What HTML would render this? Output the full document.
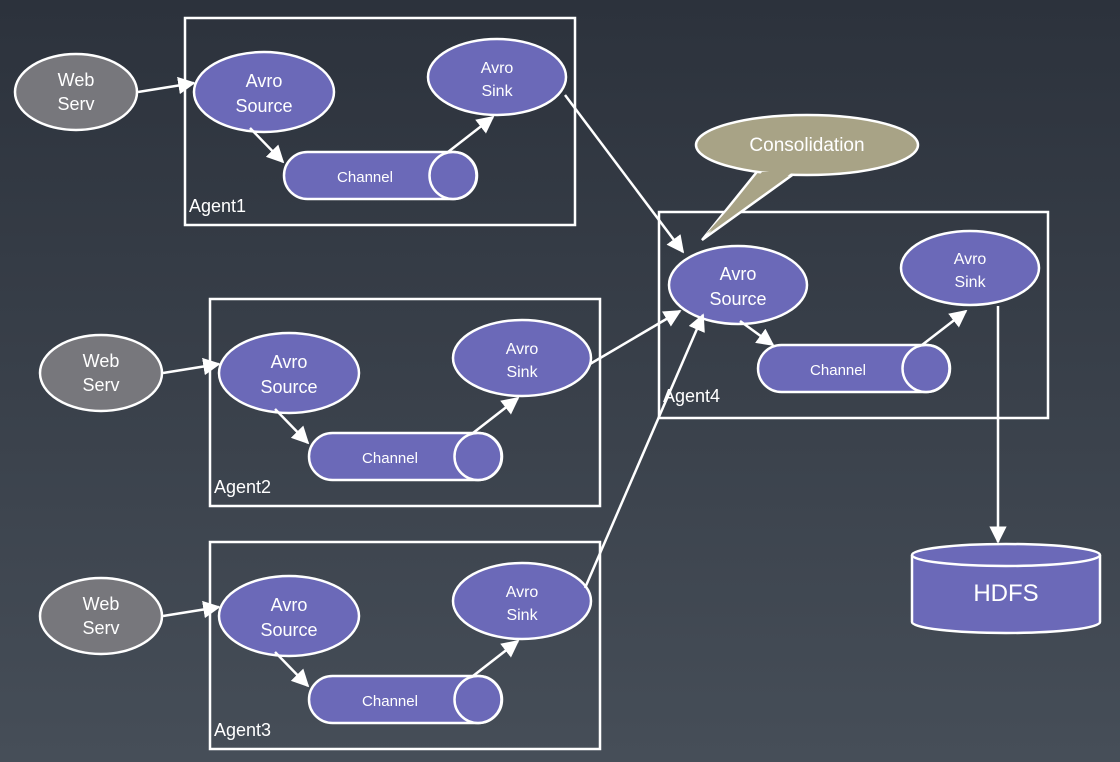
<!DOCTYPE html>
<html><head><meta charset="utf-8"><style>
html,body{margin:0;padding:0}
body{width:1120px;height:762px;overflow:hidden;background:linear-gradient(#2c323c,#464e58)}
svg{display:block}
text{font-family:"Liberation Sans",sans-serif;fill:#fff}
</style></head><body>
<svg width="1120" height="762" viewBox="0 0 1120 762" xmlns="http://www.w3.org/2000/svg">
<defs>
<marker id="a" viewBox="0 0 10 10" refX="9" refY="5" markerWidth="7" markerHeight="7" orient="auto" markerUnits="strokeWidth"><path d="M0,0L10,5L0,10z" fill="#fff"/></marker>
<g id="ag">
<rect x="185" y="18" width="390" height="207" fill="none" stroke="#fff" stroke-width="2.5"/>
<ellipse cx="76" cy="92" rx="61" ry="38" fill="#77777c" stroke="#fff" stroke-width="2.5"/>
<text x="76" y="86" font-size="18" text-anchor="middle">Web</text>
<text x="76" y="110" font-size="18" text-anchor="middle">Serv</text>
<line x1="138" y1="92" x2="194" y2="83" stroke="#fff" stroke-width="2.5" marker-end="url(#a)"/>
<ellipse cx="264" cy="92" rx="70" ry="40" fill="#6b69b8" stroke="#fff" stroke-width="2.5"/>
<text x="264" y="87" font-size="18" text-anchor="middle">Avro</text>
<text x="264" y="112" font-size="18" text-anchor="middle">Source</text>
<line x1="250" y1="128" x2="283" y2="162" stroke="#fff" stroke-width="2.5" marker-end="url(#a)"/>
<rect x="284" y="152" width="193" height="47" rx="23.5" fill="#6b69b8" stroke="#fff" stroke-width="2.5"/>
<circle cx="453" cy="175.5" r="23.5" fill="#6b69b8" stroke="#fff" stroke-width="2.5"/>
<text x="365" y="182" font-size="15" text-anchor="middle">Channel</text>
<line x1="448" y1="152" x2="493" y2="117" stroke="#fff" stroke-width="2.5" marker-end="url(#a)"/>
<ellipse cx="497" cy="77" rx="69" ry="38" fill="#6b69b8" stroke="#fff" stroke-width="2.5"/>
<text x="497" y="73" font-size="16" text-anchor="middle">Avro</text>
<text x="497" y="96" font-size="16" text-anchor="middle">Sink</text>
</g>
</defs>
<use href="#ag"/>
<text x="189" y="212" font-size="18">Agent1</text>
<use href="#ag" transform="translate(25,281)"/>
<text x="214" y="493" font-size="18">Agent2</text>
<use href="#ag" transform="translate(25,524)"/>
<text x="214" y="736" font-size="18">Agent3</text>

<!-- Agent4 -->
<rect x="659" y="212" width="389" height="206" fill="none" stroke="#fff" stroke-width="2.5"/>
<ellipse cx="738" cy="285" rx="69" ry="39" fill="#6b69b8" stroke="#fff" stroke-width="2.5"/>
<text x="738" y="280" font-size="18" text-anchor="middle">Avro</text>
<text x="738" y="305" font-size="18" text-anchor="middle">Source</text>
<line x1="740" y1="321" x2="773" y2="345" stroke="#fff" stroke-width="2.5" marker-end="url(#a)"/>
<rect x="758" y="345" width="192" height="47" rx="23.5" fill="#6b69b8" stroke="#fff" stroke-width="2.5"/>
<circle cx="926" cy="368.5" r="23.5" fill="#6b69b8" stroke="#fff" stroke-width="2.5"/>
<text x="838" y="375" font-size="15" text-anchor="middle">Channel</text>
<line x1="922" y1="345" x2="966" y2="311" stroke="#fff" stroke-width="2.5" marker-end="url(#a)"/>
<ellipse cx="970" cy="268" rx="69" ry="37" fill="#6b69b8" stroke="#fff" stroke-width="2.5"/>
<text x="970" y="264" font-size="16" text-anchor="middle">Avro</text>
<text x="970" y="287" font-size="16" text-anchor="middle">Sink</text>
<text x="663" y="402" font-size="18">Agent4</text>

<!-- inter-agent arrows -->
<line x1="565" y1="95" x2="683" y2="252" stroke="#fff" stroke-width="2.5" marker-end="url(#a)"/>
<line x1="590" y1="364" x2="680" y2="311" stroke="#fff" stroke-width="2.5" marker-end="url(#a)"/>
<line x1="585" y1="588" x2="703" y2="315" stroke="#fff" stroke-width="2.5" marker-end="url(#a)"/>

<!-- Consolidation callout -->
<path d="M760,168 L702,240 L795,173 Z" fill="#a8a386" stroke="#fff" stroke-width="2.5"/>
<ellipse cx="807" cy="145" rx="111" ry="30" fill="#a8a386" stroke="#fff" stroke-width="2.5"/>
<path d="M762,172 L706,234 L793,172 Z" fill="#a8a386"/>
<text x="807" y="151" font-size="19" text-anchor="middle">Consolidation</text>

<!-- HDFS -->
<line x1="998" y1="306" x2="998" y2="542" stroke="#fff" stroke-width="2.5" marker-end="url(#a)"/>
<path d="M912,555 L912,622 A94,11 0 0 0 1100,622 L1100,555" fill="#6b69b8" stroke="#fff" stroke-width="2.5"/>
<ellipse cx="1006" cy="555" rx="94" ry="11" fill="#6b69b8" stroke="#fff" stroke-width="2.5"/>
<text x="1006" y="601" font-size="24" text-anchor="middle">HDFS</text>
</svg>
</body></html>
